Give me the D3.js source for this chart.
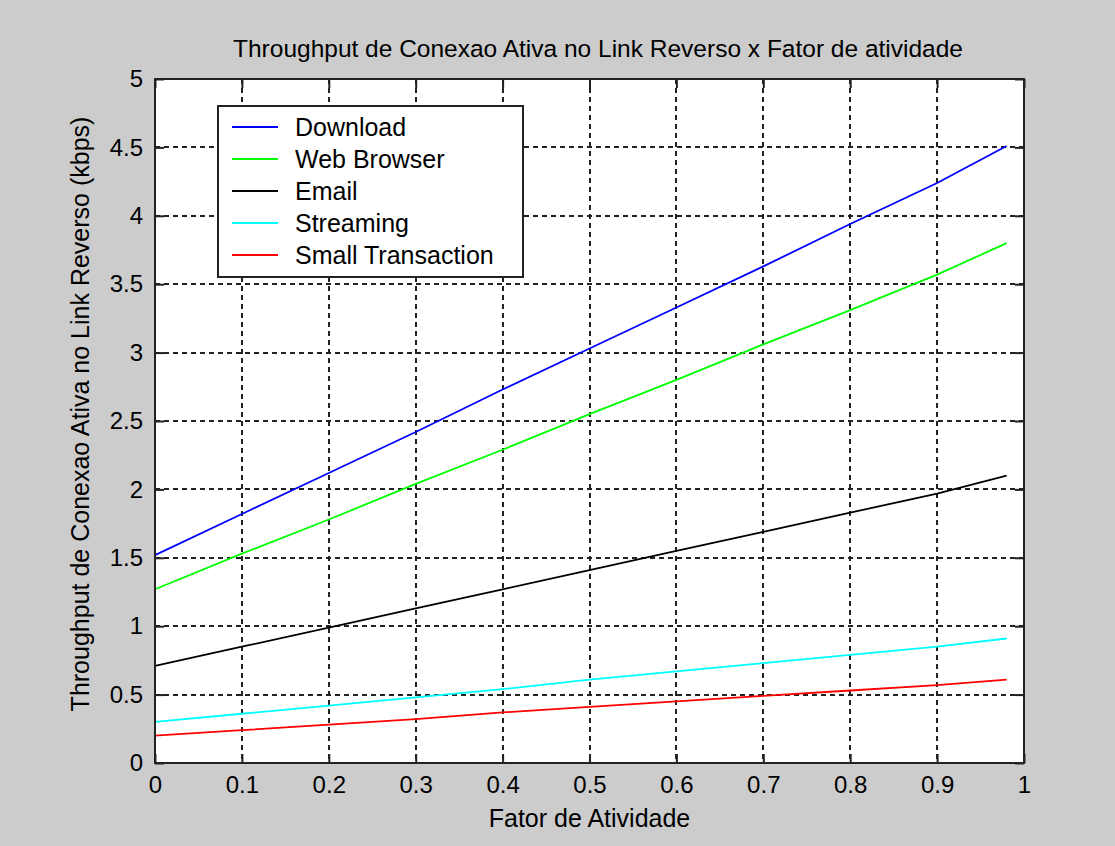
<!DOCTYPE html>
<html>
<head>
<meta charset="utf-8">
<script src="https://cdn.jsdelivr.net/npm/d3@7"></script>
<style>
  body { margin: 0; background: #cccccc; }
  text { font-family: "Liberation Sans", Arial, sans-serif; fill: #000; }
</style>
</head>
<body>
<div class="chart"></div>
<script>
// Fator de atividade
const xs = [0, 0.1, 0.2, 0.3, 0.4, 0.5, 0.6, 0.7, 0.8, 0.9, 0.98];
const download = [1.52, 1.82, 2.12, 2.42, 2.73, 3.03, 3.33, 3.63, 3.94, 4.24, 4.51];
const webBrowser = [1.27, 1.53, 1.78, 2.04, 2.29, 2.55, 2.80, 3.06, 3.31, 3.57, 3.80];
const email = [0.71, 0.85, 0.99, 1.13, 1.27, 1.41, 1.55, 1.69, 1.83, 1.97, 2.10];
const streaming = [0.30, 0.36, 0.42, 0.48, 0.54, 0.61, 0.67, 0.73, 0.79, 0.85, 0.91];
const smallTrans = [0.20, 0.24, 0.28, 0.32, 0.37, 0.41, 0.45, 0.49, 0.53, 0.57, 0.61];
const seriesNames = ["Download", "Web Browser", "Email", "Streaming", "Small Transaction"];
const seriesColors = ["#0000ff", "#00ff00", "#000000", "#00ffff", "#ff0000"];
const xTicks = [0, 0.1, 0.2, 0.3, 0.4, 0.5, 0.6, 0.7, 0.8, 0.9, 1];
const yTicks = [0, 0.5, 1, 1.5, 2, 2.5, 3, 3.5, 4, 4.5, 5];

function drawChart() {
    const W = 1115, H = 846;
    const margin = { top: 79, right: 91, bottom: 83, left: 155 };
    const width = W - margin.left - margin.right;
    const height = H - margin.top - margin.bottom;

    const svg = d3.select("div.chart").append("svg")
        .attr("width", W)
        .attr("height", H);

    svg.append("rect").attr("width", W).attr("height", H).attr("fill", "#cccccc");

    const g = svg.append("g")
        .attr("transform", `translate(${margin.left},${margin.top})`);

    const x = d3.scaleLinear().domain([0, 1]).range([0, width]);
    const y = d3.scaleLinear().domain([0, 5]).range([height, 0]);

    // plot area
    g.append("rect").attr("width", width).attr("height", height).attr("fill", "#fff");

    // grid (dashed)
    g.selectAll(".gx").data(xTicks.slice(1, -1)).enter().append("line")
        .attr("x1", d => Math.round(x(d))).attr("x2", d => Math.round(x(d)))
        .attr("y1", 0).attr("y2", height)
        .attr("stroke", "#222").attr("stroke-width", 2)
        .attr("stroke-dasharray", "5,4").attr("shape-rendering", "crispEdges");
    g.selectAll(".gy").data(yTicks.slice(1, -1)).enter().append("line")
        .attr("y1", d => Math.round(y(d))).attr("y2", d => Math.round(y(d)))
        .attr("x1", 0).attr("x2", width)
        .attr("stroke", "#222").attr("stroke-width", 2)
        .attr("stroke-dasharray", "5,4").attr("shape-rendering", "crispEdges");

    // series
    const allSeries = [download, webBrowser, email, streaming, smallTrans];
    const line = d3.line().x((d, i) => x(xs[i])).y(d => y(d));
    allSeries.forEach((s, k) => {
        g.append("path").datum(s)
            .attr("d", line)
            .attr("fill", "none")
            .attr("stroke", seriesColors[k])
            .attr("stroke-width", 1.8);
    });

    // axes with inward ticks
    const tickLen = 9;
    g.append("g").attr("transform", `translate(0,${height})`)
        .call(d3.axisBottom(x).tickValues(xTicks).tickFormat(d3.format("")).tickSizeInner(-tickLen).tickSizeOuter(0).tickPadding(13));
    g.append("g")
        .call(d3.axisTop(x).tickValues(xTicks).tickFormat("").tickSizeInner(-tickLen).tickSizeOuter(0));
    g.append("g")
        .call(d3.axisLeft(y).tickValues(yTicks).tickFormat(d3.format("")).tickSizeInner(-tickLen).tickSizeOuter(0).tickPadding(12));
    g.append("g").attr("transform", `translate(${width},0)`)
        .call(d3.axisRight(y).tickValues(yTicks).tickFormat("").tickSizeInner(-tickLen).tickSizeOuter(0));
    g.selectAll(".tick line").attr("stroke", "#222").attr("stroke-width", 2);
    g.selectAll(".domain").remove();
    g.selectAll(".tick text").style("font-size", "24px").style("font-family", "'Liberation Sans', Arial, sans-serif").attr("fill", "#000");

    // box
    g.append("rect").attr("width", width).attr("height", height)
        .attr("fill", "none").attr("stroke", "#222").attr("stroke-width", 2);

    // legend
    const lg = g.append("g").attr("transform", `translate(${218 - margin.left},${106 - margin.top})`);
    lg.append("rect").attr("width", 305).attr("height", 171)
        .attr("fill", "#fff").attr("stroke", "#222").attr("stroke-width", 2);
    seriesNames.forEach((name, k) => {
        const ly = 21 + k * 32;
        lg.append("line").attr("x1", 14).attr("x2", 60).attr("y1", ly).attr("y2", ly)
            .attr("stroke", seriesColors[k]).attr("stroke-width", 1.8);
        lg.append("text").attr("x", 77).attr("y", ly).attr("dy", "0.36em")
            .style("font-size", "25px").text(name);
    });

    // title
    svg.append("text")
        .attr("x", 598).attr("y", 57)
        .attr("text-anchor", "middle").style("font-size", "24.5px")
        .text("Throughput de Conexao Ativa no Link Reverso x Fator de atividade");

    // x label
    svg.append("text")
        .attr("x", margin.left + width / 2).attr("y", 827)
        .attr("text-anchor", "middle").style("font-size", "25px")
        .text("Fator de Atividade");

    // y label
    svg.append("text")
        .attr("transform", "rotate(-90)")
        .attr("x", -414).attr("y", 89)
        .attr("text-anchor", "middle").style("font-size", "25px")
        .text("Throughput de Conexao Ativa no Link Reverso (kbps)");
}

drawChart();
</script>
</body>
</html>
